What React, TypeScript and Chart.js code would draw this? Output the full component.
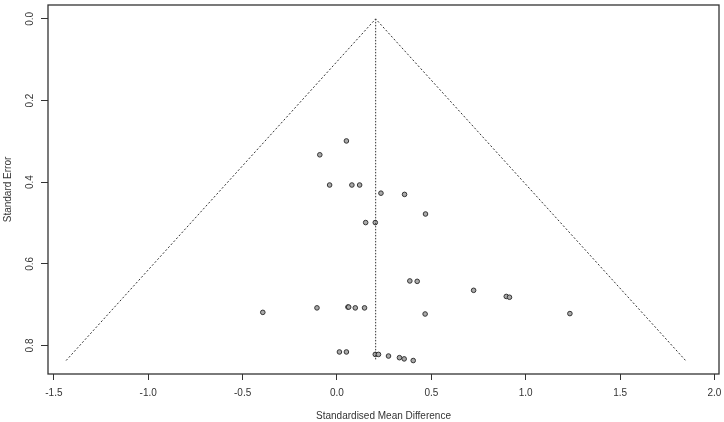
import React, { useEffect, useRef } from 'react';
import { Chart, registerables } from 'chart.js';

Chart.register(...registerables);

// Study effects (standardised mean difference) and their standard errors
const smd = [
  0.05, -0.091, -0.039, 0.079, 0.12, 0.233, 0.358, 0.469, 0.152, 0.203,
  0.386, 0.425, 0.724, 0.897, 0.914, -0.393, -0.106, 0.058, 0.062, 0.097,
  0.146, 0.467, 1.234, 0.013, 0.05, 0.203, 0.22, 0.273, 0.331, 0.356, 0.404,
];
const se = [
  0.299, 0.333, 0.407, 0.407, 0.407, 0.427, 0.43, 0.478, 0.499, 0.499,
  0.642, 0.643, 0.665, 0.68, 0.682, 0.719, 0.708, 0.706, 0.706, 0.708,
  0.708, 0.723, 0.722, 0.816, 0.816, 0.822, 0.822, 0.826, 0.83, 0.833, 0.837,
];

// Pooled estimate line and pseudo 95% confidence funnel
const pooledX = [0.205, 0.205];
const pooledY = [0, 0.837];
const funnelX = [-1.435, 0.205, 1.847];
const funnelY = [0.837, 0, 0.837];

const xTickLabels = ['-1.5', '-1.0', '-0.5', '0.0', '0.5', '1.0', '1.5', '2.0'];
const yTickLabels = ['0.0', '0.2', '0.4', '0.6', '0.8'];

const FONT = "'Liberation Sans', Arial, sans-serif";
const TEXT = '#333';
const FS = 10;

const frame = {
  id: 'frame',
  afterDraw(chart: any) {
    const { ctx, chartArea } = chart;
    const y = chart.scales.y;
    ctx.save();
    ctx.strokeStyle = '#333';
    ctx.lineWidth = 1.3;
    ctx.strokeRect(chartArea.left, chartArea.top, chartArea.right - chartArea.left, chartArea.bottom - chartArea.top);
    ctx.fillStyle = TEXT;
    ctx.font = `${FS}px ${FONT}`;
    ctx.textAlign = 'center';
    ctx.textBaseline = 'middle';
    yTickLabels.forEach((lab) => {
      const py = y.getPixelForValue(parseFloat(lab));
      ctx.save();
      ctx.translate(30, py);
      ctx.rotate(-Math.PI / 2);
      ctx.fillText(lab, 0, 0);
      ctx.restore();
    });
    ctx.restore();
  },
};

export default function App() {
  const ref = useRef<HTMLCanvasElement | null>(null);
  useEffect(() => {
    document.body.style.margin = '0';
    const canvas = ref.current!;
    const chart = new Chart(canvas, {
      type: 'scatter',
      data: {
        datasets: [
          {
            type: 'line',
            data: funnelX.map((x, i) => ({ x, y: funnelY[i] })),
            borderColor: '#333',
            borderWidth: 1,
            borderDash: [2, 2],
            pointRadius: 0,
            fill: false,
          },
          {
            type: 'line',
            data: pooledX.map((x, i) => ({ x, y: pooledY[i] })),
            borderColor: '#333',
            borderWidth: 1,
            borderDash: [1.5, 1.5],
            pointRadius: 0,
            fill: false,
          },
          {
            type: 'scatter',
            data: smd.map((x, i) => ({ x, y: se[i] })),
            pointRadius: 2.3,
            pointBorderWidth: 1,
            borderColor: '#333',
            backgroundColor: '#aaa',
          },
        ],
      },
      options: {
        animation: false,
        responsive: false,
        maintainAspectRatio: false,
        layout: { padding: { top: 2, right: 4, left: 0, bottom: 0 } },
        plugins: { legend: { display: false }, tooltip: { enabled: false } },
        scales: {
          x: {
            type: 'linear',
            min: -1.531,
            max: 2.024,
            afterFit: (s: any) => { s.height = 48; s.paddingLeft = 0; s.paddingRight = 0; },
            border: { display: false },
            grid: { drawOnChartArea: false, drawTicks: true, tickLength: 6, color: '#333' },
            ticks: {
              stepSize: 0.5,
              includeBounds: false,
              autoSkip: false,
              maxRotation: 0,
              padding: 7,
              color: TEXT,
              font: { family: FONT, size: FS },
              callback: (v: any) => {
                const idx = Math.round((Number(v) + 1.5) / 0.5);
                return xTickLabels[idx] ?? '';
              },
            },
            title: {
              display: true,
              text: 'Standardised Mean Difference',
              color: TEXT,
              font: { family: FONT, size: FS },
              padding: { top: 0, bottom: 0 },
            },
          },
          y: {
            type: 'linear',
            reverse: true,
            min: -0.034,
            max: 0.87,
            afterFit: (s: any) => { s.width = 48; s.paddingTop = 0; s.paddingBottom = 0; },
            border: { display: false },
            grid: { drawOnChartArea: false, drawTicks: true, tickLength: 7, color: '#333' },
            ticks: {
              stepSize: 0.2,
              includeBounds: false,
              autoSkip: false,
              callback: () => '',
            },
            title: {
              display: true,
              text: 'Standard Error',
              color: TEXT,
              font: { family: FONT, size: FS },
              padding: { top: 2, bottom: 0 },
            },
          },
        },
      },
      plugins: [frame],
    });
    return () => chart.destroy();
  }, []);
  return <canvas ref={ref} width={724} height={422} style={{ display: 'block' }} />;
}
